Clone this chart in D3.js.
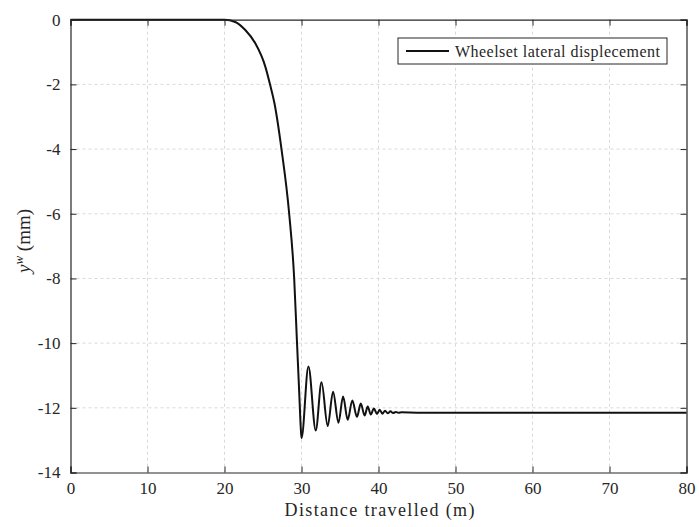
<!DOCTYPE html>
<html>
<head>
<meta charset="utf-8">
<script src="https://cdn.jsdelivr.net/npm/d3@7"></script>
<style>
  html, body { margin: 0; padding: 0; background: #fff; }
  svg { display: block; }
  text { font-family: "Liberation Serif", "DejaVu Serif", serif; fill: #262626; }
</style>
</head>
<body>
<svg id="chart" width="699" height="527"></svg>
<script>
// ---- data ----
const distance = [0, 10, 20, 21.4, 22.7, 24.0, 25.3, 25.9, 26.5, 27.4, 28.4, 29.05, 29.4, 29.7, 29.9, 30.0,
  30.9, 31.85, 32.6, 33.4, 34.1, 34.8, 35.4, 36.0, 36.6, 37.2, 37.7, 38.2, 38.6, 39.0, 39.4, 39.8,
  40.15, 40.5, 40.85, 41.2, 41.55, 41.9, 42.25, 42.6, 43.0, 45, 60, 80];
const lateralDisp = [0, 0, 0, -0.07, -0.32, -0.73, -1.45, -1.99, -2.6, -4.0, -6.0, -8.0, -9.9, -11.5, -12.6, -12.94,
  -10.72, -12.70, -11.21, -12.56, -11.50, -12.46, -11.65, -12.37, -11.77, -12.28, -11.87, -12.24, -11.96, -12.21, -12.02, -12.19,
  -12.06, -12.18, -12.09, -12.17, -12.11, -12.16, -12.13, -12.155, -12.14, -12.15, -12.15, -12.15];
const xTicks = [0, 10, 20, 30, 40, 50, 60, 70, 80];
const yTicks = [0, -2, -4, -6, -8, -10, -12, -14];
const seriesName = "Wheelset lateral displecement";

// ---- layout ----
const svg = d3.select("#chart");
const L = 70.5, R = 686.5, T = 19.7, B = 472.5;
const x = d3.scaleLinear().domain([0, 80]).range([L, R]);
const y = d3.scaleLinear().domain([-14, 0]).range([B, T]);
const axisColor = "#262626";

// grid
const grid = svg.append("g");
grid.selectAll(".gx").data(xTicks.slice(1, -1)).enter().append("line")
  .attr("x1", d => x(d)).attr("x2", d => x(d)).attr("y1", T).attr("y2", B)
  .attr("stroke", "#d9d9d9").attr("stroke-width", 1).attr("stroke-dasharray", "3,3");
grid.selectAll(".gy").data(yTicks.slice(1, -1)).enter().append("line")
  .attr("y1", d => y(d)).attr("y2", d => y(d)).attr("x1", L).attr("x2", R)
  .attr("stroke", "#d9d9d9").attr("stroke-width", 1).attr("stroke-dasharray", "3,3");

// line
const line = d3.line().x((d, i) => x(distance[i])).y(d => y(d)).curve(d3.curveMonotoneX);
svg.append("path").datum(lateralDisp).attr("d", line)
  .attr("fill", "none").attr("stroke", "#111").attr("stroke-width", 2).attr("stroke-linejoin", "round");

// axes
const tickLen = 6;
const xb = svg.append("g").attr("transform", `translate(0,${B})`)
  .call(d3.axisBottom(x).tickValues(xTicks).tickSize(-tickLen).tickPadding(9).tickFormat(d3.format("d")));
const xt = svg.append("g").attr("transform", `translate(0,${T})`)
  .call(d3.axisTop(x).tickValues(xTicks).tickSize(-tickLen).tickFormat(""));
const yl = svg.append("g").attr("transform", `translate(${L},0)`)
  .call(d3.axisLeft(y).tickValues(yTicks).tickSize(-tickLen).tickPadding(10).tickFormat(d => d === 0 ? "0" : "-" + Math.abs(d)));
const yr = svg.append("g").attr("transform", `translate(${R},0)`)
  .call(d3.axisRight(y).tickValues(yTicks).tickSize(-tickLen).tickFormat(""));
[xb, xt, yl, yr].forEach(g => {
  g.select(".domain").attr("stroke", axisColor).attr("stroke-width", 1.2);
  g.selectAll(".tick line").attr("stroke", axisColor).attr("stroke-width", 1);
  g.selectAll("text").attr("fill", axisColor).style("font-size", "17px")
    .style("font-family", "'Liberation Serif', serif");
});

// axis labels
svg.append("text").attr("x", (L + R) / 2 + 1).attr("y", 516).attr("text-anchor", "middle")
  .attr("textLength", 190).attr("lengthAdjust", "spacing")
  .style("font-size", "18px").text("Distance travelled (m)");
const yLab = svg.append("text").attr("transform", `translate(30,241) rotate(-90)`)
  .attr("text-anchor", "middle").style("font-size", "19px");
yLab.append("tspan").style("font-style", "italic").text("y");
yLab.append("tspan").style("font-style", "italic").style("font-size", "13px").attr("dy", -7).text("w");
yLab.append("tspan").attr("dy", 7).text(" (mm)");

// legend
const lg = svg.append("g");
lg.append("rect").attr("x", 398).attr("y", 38).attr("width", 269).attr("height", 26)
  .attr("fill", "#fff").attr("stroke", axisColor).attr("stroke-width", 1);
lg.append("line").attr("x1", 406).attr("x2", 449).attr("y1", 51).attr("y2", 51)
  .attr("stroke", "#111").attr("stroke-width", 2);
lg.append("text").attr("x", 455).attr("y", 56.5).attr("textLength", 205).attr("lengthAdjust", "spacing")
  .style("font-size", "16px").text(seriesName);
</script>
</body>
</html>
